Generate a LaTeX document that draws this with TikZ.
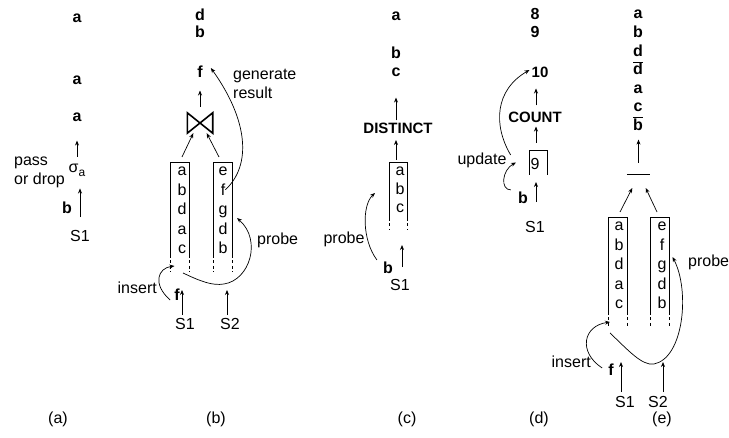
\documentclass[tikz,border=0pt]{standalone}
\usepackage{fontspec}
\setmainfont{Liberation Sans}
\usetikzlibrary{arrows.meta,calc}
\tikzset{
  txt/.style={font=\fontsize{16}{19}\selectfont, inner sep=0pt},
  bld/.style={font=\bfseries\fontsize{16}{18}\selectfont, inner sep=0pt},
  bldw/.style={font=\bfseries\fontsize{15}{18}\selectfont, inner sep=0pt},
  arr/.style={-{Stealth[length=5pt,width=4pt]}, line width=0.7pt},
  winl/.style={line width=0.7pt},
  wind/.style={line width=0.7pt, dash pattern=on 3pt off 2.5pt},
  slot/.style={inner sep=0pt, outer sep=0pt, minimum width=19pt},
}
\begin{document}
\begin{tikzpicture}[x=1pt,y=-1pt]
\path[use as bounding box] (0,0) rectangle (729,438);

% ---------------- (a)
\node[bld] (aO1) at (77,18) {a};
\node[bld] (aO2) at (77,80) {a};
\node[bld] (aO3) at (77,117) {a};
\node[txt] (aSig) at (77,170) {σ\raisebox{-4pt}{\fontsize{12}{12}\selectfont a}};
\node[txt, align=left, anchor=west] (aPass) at (14,172) {pass\\or drop};
\node[bld] (aB) at (67,208) {b};
\node[txt] (aS1) at (80,236) {S1};
\draw[arr, shorten <=7pt, shorten >=19pt] (aSig.north) -- (aSig.north |- aO3.south);
\draw[arr, shorten <=13pt, shorten >=12pt] (aS1.north) -- (aS1.north |- aSig.south);
\node[txt] (aLab) at (58,419) {(a)};

% ---------------- (b)
\node[bld] (bO1) at (200,15) {d};
\node[bld] (bO2) at (200,32) {b};
\node[bld] (bO3) at (200,72) {f};
\node[inner sep=0pt, minimum width=25pt, minimum height=20pt] (bJoin) at (200,123) {};
\draw[line width=1.6pt] (bJoin.north west) -- (bJoin.south east) -- (bJoin.north east) -- (bJoin.south west) -- cycle;
\draw[arr, shorten <=6pt, shorten >=12.5pt] (bJoin.north) -- (bJoin.north |- bO3.south);
\node[slot, minimum height=93pt] (bL) at (179.5,208.5) {};
\node[slot, minimum height=93pt] (bR) at (222.5,208.5) {};
\draw[winl] (bL.south west) -- (bL.north west) -- (bL.north east) -- (bL.south east);
\draw[winl] (bR.south west) -- (bR.north west) -- (bR.north east) -- (bR.south east);
\draw[wind] (bL.south west) -- ++(0,17);
\draw[wind] (bL.south east) -- ++(0,17);
\draw[wind] (bR.south west) -- ++(0,17);
\draw[wind] (bR.south east) -- ++(0,17);
\coordinate (bLend) at ($(bL.south)+(0,17)$);
\foreach \l [count=\i] in {a,b,d,a,c}
  \node[txt, anchor=base] (bL\i) at (182,{176+(\i-1)*19.5}) {\l};
\foreach \l [count=\i] in {e,f,g,d,b}
  \node[txt, anchor=base] (bR\i) at (223,{176+(\i-1)*19.5}) {\l};
\draw[arr] ($(bL.north)+(2.5,-5)$) -- ($(bJoin.south west)+(6,0)$);
\draw[arr] ($(bR.north)+(-3.5,-5)$) -- ($(bJoin.south east)+(-6,0)$);
\node[txt, align=left, anchor=west] (bGen) at (233,84) {generate\\result};
\draw[arr] (bR2.east) .. controls (252,165) and (248,120) .. ($(bO3.east)+(8,-4)$);
\node[txt, anchor=west] (bProbe) at (257,240) {probe};
\draw[arr] ($(bLend)+(3.5,1)$) .. controls (200,281) and (212,286) .. (224,284)
  .. controls (250,280) and (262,240) .. ($(bR.south east)+(5,-37)$);
\node[bld] (bF) at (177,295) {f};
\node[txt, anchor=east] (bIns) at (157,288) {insert};
\draw[arr] ($(bF.west)+(-4,5)$) .. controls (152,284) and (158,268) .. ($(bLend)+(-5,-6)$);
\node[txt] (bS1) at (185,324) {S1};
\node[txt] (bS2) at (230,324) {S2};
\draw[arr] ($(bS1.north)+(-3,-3)$) -- ($(bLend)+(2.5,18)$);
\draw[arr] ($(bS2.north)+(-3,-3)$) -- ($(bLend)+(47.5,18)$);
\node[txt] (bLab) at (216,419) {(b)};

% ---------------- (c)
\node[bld] (cO1) at (396,16) {a};
\node[bld] (cO2) at (396,53) {b};
\node[bld] (cO3) at (396,72) {c};
\node[bldw] (cDist) at (398,128) {DISTINCT};
\draw[arr] ($(cDist.north)+(-2,-2)$) -- ($(cO3.south)+(0,21)$);
\node[slot, minimum width=18pt, minimum height=56pt] (cW) at (398,190) {};
\draw[winl] (cW.south west) -- (cW.north west) -- (cW.north east) -- (cW.south east);
\draw[wind] (cW.south west) -- ++(0,12);
\draw[wind] (cW.south east) -- ++(0,12);
\foreach \l [count=\i] in {a,b,c}
  \node[txt, anchor=base] (cW\i) at (400,{176+(\i-1)*18.5}) {\l};
\draw[arr] ($(cW.north)+(-2,-2)$) -- ($(cDist.south)+(-2,6.5)$);
\node[bld] (cB) at (388,268) {b};
\node[txt] (cS1) at (400,285) {S1};
\draw[arr] ($(cS1.north)+(2,-12)$) -- ($(cW.south)+(4,27)$);
\draw[arr] ($(cB.north west)+(-6,-2)$) .. controls (362,240) and (362,205) .. ($(cW.west)+(-14,3)$);
\node[txt] (cProbe) at (344,239) {probe};
\node[txt] (cLab) at (407,419) {(c)};

% ---------------- (d)
\node[bld] (dO1) at (535,14) {8};
\node[bld] (dO2) at (535,32) {9};
\node[bldw] (dO3) at (540,72) {10};
\node[bldw] (dCount) at (535,117) {COUNT};
\draw[arr] ($(dCount.north)+(1,-6)$) -- ($(dCount.north)+(1,-23)$);
\node[slot, minimum width=18pt, minimum height=25pt] (dW) at (538,162.5) {};
\draw[winl] (dW.south west) -- (dW.north west) -- (dW.north east) -- (dW.south east);
\node[txt] (d9) at (535,164) {9};
\draw[arr] ($(dW.north)+(-2,-7)$) -- ($(dCount.south)+(1,4)$);
\node[bld] (dB) at (523,198) {b};
\node[txt] (dS1) at (535,227) {S1};
\draw[arr] ($(dS1.north)+(1,-19)$) -- ($(dW.south)+(-2,7)$);
\node[txt] (dUpd) at (482,160) {update};
\draw[arr] ($(dB.north west)+(-7,-2)$) .. controls (500,190) and (502,170) .. ($(dW.west)+(-13,0)$);
\draw[arr] ($(dUpd.east)+(4,-5)$) .. controls (493,125) and (495,90) .. ($(dO3.west)+(-2,-2)$);
\node[txt] (dLab) at (539,419) {(d)};

% ---------------- (e)
\node[bld, anchor=base] (eO1) at (638,19) {a};
\node[bld, anchor=base] (eO2) at (638,37.6) {b};
\node[bld, anchor=base] (eO3) at (638,56.2) {d};
\node[bld, anchor=base] (eO4) at (638,74.8) {$\overline{\hbox{d}}$};
\node[bld, anchor=base] (eO5) at (638,93.4) {a};
\node[bld, anchor=base] (eO6) at (638,112) {c};
\node[bld, anchor=base] (eO7) at (638,130.6) {$\overline{\hbox{b}}$};
\node[inner sep=0pt, minimum width=23pt, minimum height=0pt] (eBar) at (638.5,174) {};
\draw[line width=0.9pt] (eBar.west) -- (eBar.east);
\draw[arr] ($(eBar.north)+(0,-11)$) -- ($(eO7.base)+(0.5,9)$);
\node[slot, minimum height=95pt] (eL) at (617.5,264.5) {};
\node[slot, minimum height=95pt] (eR) at (660,264.5) {};
\draw[winl] (eL.south west) -- (eL.north west) -- (eL.north east) -- (eL.south east);
\draw[winl] (eR.south west) -- (eR.north west) -- (eR.north east) -- (eR.south east);
\draw[wind] (eL.south west) -- ++(0,16);
\draw[wind] (eL.south east) -- ++(0,16);
\draw[wind] (eR.south west) -- ++(0,16);
\draw[wind] (eR.south east) -- ++(0,16);
\coordinate (eLend) at ($(eL.south)+(0,16)$);
\foreach \l [count=\i] in {a,b,d,a,c}
  \node[txt, anchor=base] (eL\i) at (619,{231+(\i-1)*19.5}) {\l};
\foreach \l [count=\i] in {e,f,g,d,b}
  \node[txt, anchor=base] (eR\i) at (662,{231+(\i-1)*19.5}) {\l};
\draw[arr] ($(eL.north)+(2.5,-5)$) -- ($(eBar.west)+(5.5,14)$);
\draw[arr] ($(eR.north)+(-3,-5)$) -- ($(eBar.east)+(-4.5,14)$);
\node[bld] (eF) at (611,370) {f};
\node[txt, anchor=east] (eIns) at (591,362) {insert};
\draw[arr] ($(eF.west)+(-6,-2)$) .. controls (578,352) and (583,326) .. ($(eLend)+(-7.5,-6)$);
\draw[arr] ($(eLend)+(-7.5,5)$) .. controls (628,350) and (642,366) .. (654,364)
  .. controls (684,358) and (690,290) .. ($(eR.north east)+(3,40)$);
\node[txt, anchor=west] (eProbe) at (688,262) {probe};
\node[txt] (eS1) at (625,402) {S1};
\node[txt] (eS2) at (658,402) {S2};
\draw[arr] ($(eS1.north)+(-4,-4)$) -- ($(eLend)+(3.5,34)$);
\draw[arr] ($(eS2.north)+(5,-4)$) -- ($(eLend)+(45.5,34)$);
\node[txt] (eLab) at (662,419) {(e)};
\end{tikzpicture}
\end{document}
